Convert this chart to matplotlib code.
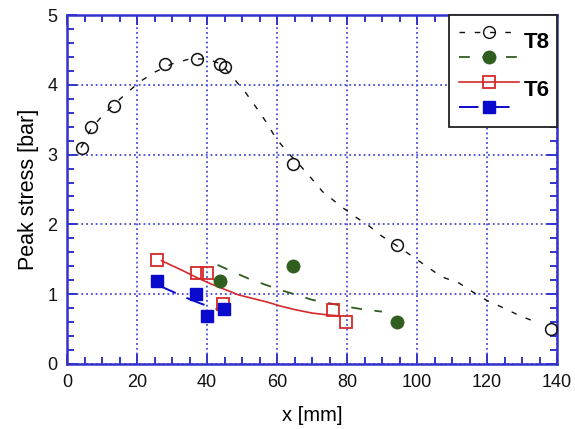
import matplotlib
matplotlib.use("Agg")
import matplotlib.pyplot as plt
from matplotlib.lines import Line2D
from matplotlib.ticker import MultipleLocator

plt.rcParams['font.family'] = ['Liberation Sans', 'DejaVu Sans']

# ---- data ----
t8a_x = [4.3, 6.8, 13.3, 28.0, 37.0, 43.7, 45.0, 64.6, 94.2, 138.3]
t8a_y = [3.09, 3.39, 3.70, 4.30, 4.37, 4.30, 4.25, 2.87, 1.70, 0.50]
t8a_fit_x = [4, 7, 10, 13, 17, 21, 25, 30, 35, 40, 44, 47.5, 51, 54, 57, 59.5, 63, 66,
             70, 73, 78, 82, 86, 90, 95, 99, 103, 107, 112, 116, 120, 124, 129, 133, 135]
t8a_fit_y = [3.10, 3.38, 3.55, 3.70, 3.88, 4.05, 4.18, 4.30, 4.37, 4.37, 4.30, 4.10, 3.89,
             3.68, 3.46, 3.25, 3.03, 2.88, 2.65, 2.47, 2.27, 2.12, 1.99, 1.83, 1.67, 1.53,
             1.39, 1.25, 1.16, 1.03, 0.91, 0.82, 0.70, 0.62, 0.59]

t8b_x = [43.7, 64.6, 94.2]
t8b_y = [1.19, 1.40, 0.60]
t8b_fit_x = [43, 47, 52, 57, 61, 65, 70, 75, 80, 85, 90]
t8b_fit_y = [1.42, 1.33, 1.22, 1.13, 1.06, 1.00, 0.92, 0.87, 0.82, 0.78, 0.75]

t6a_x = [25.6, 37.0, 40.0, 44.7, 76.0, 79.7]
t6a_y = [1.49, 1.30, 1.30, 0.86, 0.78, 0.60]
t6a_fit_x = [27, 30, 33, 37, 41, 45, 49, 53, 57, 61, 65, 70, 75, 78]
t6a_fit_y = [1.48, 1.41, 1.34, 1.24, 1.15, 1.07, 0.99, 0.94, 0.89, 0.83, 0.78, 0.73, 0.70, 0.69]

t6b_x = [25.6, 36.8, 40.0, 44.9]
t6b_y = [1.19, 1.00, 0.69, 0.79]
t6b_fit_x = [26, 30, 34, 38, 42, 45]
t6b_fit_y = [1.13, 1.04, 0.95, 0.87, 0.80, 0.76]

xticks = [0, 20, 40, 60, 80, 100, 120, 140]
yticks = [0, 1, 2, 3, 4, 5]
xlabel = "x [mm]"
ylabel = "Peak stress [bar]"
group_labels = ["T8", "T6"]

# ---- style ----
BLUE_AX = '#3333cc'
GRID = '#4a4ad8'
BLACK = '#111111'
GREEN = '#2f5e1f'
RED = '#d42a2a'
BLUE = '#0a0acc'

fig = plt.figure(figsize=(5.75, 4.29), dpi=100)
ax = fig.add_axes([67/575, 1-364/429, (557-67)/575, (364-15)/429])

blk_ls = (0, (4, 7))
grn_ls = (0, (6, 7))
blu_ls = (0, (10, 6))

ax.plot(t8a_fit_x, t8a_fit_y, color=BLACK, lw=1.0, linestyle=blk_ls, zorder=3)
ax.plot(t8a_x, t8a_y, linestyle='none', marker='o', ms=8.5, mfc='none', mec=BLACK, mew=1.1, zorder=4)

ax.plot(t8b_fit_x, t8b_fit_y, color=GREEN, lw=1.3, linestyle=grn_ls, zorder=3)
ax.plot(t8b_x, t8b_y, linestyle='none', marker='o', ms=9, mfc=GREEN, mec=GREEN, zorder=4)

ax.plot(t6a_fit_x, t6a_fit_y, color=RED, lw=1.2, linestyle='-', zorder=3)
ax.plot(t6a_x, t6a_y, linestyle='none', marker='s', ms=8.5, mfc='none', mec=RED, mew=1.3, zorder=4)

ax.plot(t6b_fit_x, t6b_fit_y, color=BLUE, lw=1.4, linestyle=blu_ls, zorder=3)
ax.plot(t6b_x, t6b_y, linestyle='none', marker='s', ms=8.5, mfc=BLUE, mec=BLUE, zorder=5)

ax.set_xlim(0, 140)
ax.set_ylim(0, 5)
ax.set_xticks(xticks)
ax.set_yticks(yticks)
ax.xaxis.set_minor_locator(MultipleLocator(5))
ax.yaxis.set_minor_locator(MultipleLocator(0.2))
ax.tick_params(which='both', direction='in', top=True, right=True, color=BLUE_AX,
               width=1.4, labelsize=13, labelcolor='#111111')
ax.tick_params(which='major', length=7, pad=7)
ax.tick_params(which='minor', length=5)
for s in ax.spines.values():
    s.set_color(BLUE_AX)
    s.set_linewidth(1.8)
ax.grid(True, which='major', color=GRID, linestyle=':', linewidth=1.3)
ax.set_axisbelow(True)

ax.set_xlabel(xlabel, fontsize=14.5, labelpad=11)
ax.set_ylabel(ylabel, fontsize=15.5, labelpad=6)

handles = [
    Line2D([], [], color=BLACK, lw=1.0, linestyle=blk_ls, marker='o', ms=8.5, mfc='none', mec=BLACK),
    Line2D([], [], color=GREEN, lw=1.3, linestyle=grn_ls, marker='o', ms=9, mfc=GREEN, mec=GREEN),
    Line2D([], [], color=RED, lw=1.2, linestyle='-', marker='s', ms=8.5, mfc='none', mec=RED, mew=1.3),
    Line2D([], [], color=BLUE, lw=1.4, linestyle=blu_ls, marker='s', ms=8.5, mfc=BLUE, mec=BLUE),
]
leg = ax.legend(handles, [' '] * 4, loc='upper right', borderaxespad=0, fontsize=15,
                handlelength=2.9, handletextpad=1.1, labelspacing=0.28, borderpad=0.45,
                fancybox=False, framealpha=1, edgecolor='#222222')
leg.get_frame().set_linewidth(1.3)
leg.set_zorder(10)

ax.text(0.985, 0.922, group_labels[0], transform=ax.transAxes, ha='right', va='center',
        fontsize=16, fontweight='bold', zorder=11)
ax.text(0.985, 0.785, group_labels[1], transform=ax.transAxes, ha='right', va='center',
        fontsize=16, fontweight='bold', zorder=11)

fig.savefig('out.png', dpi=100)
